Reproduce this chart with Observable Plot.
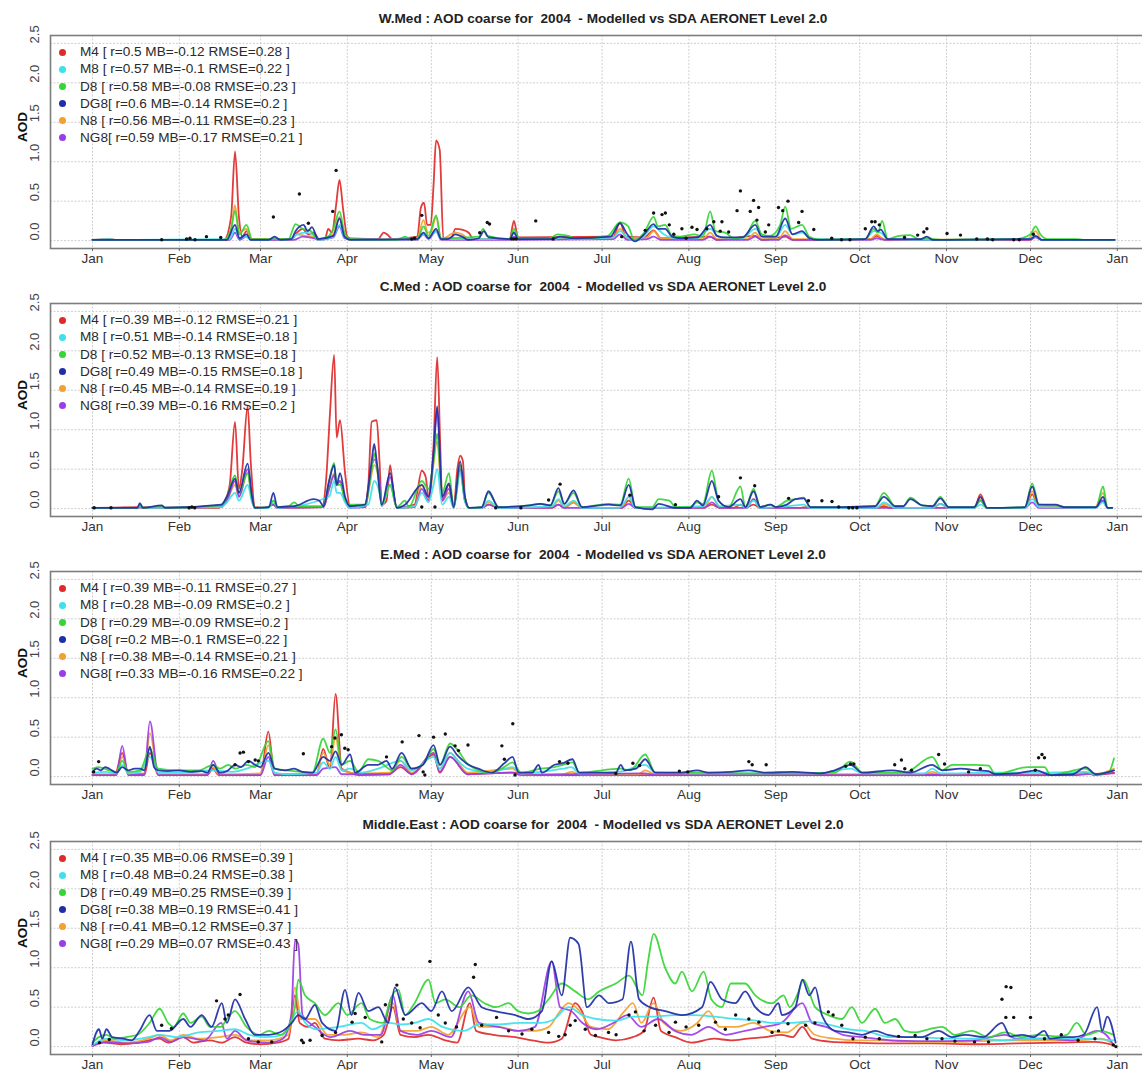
<!DOCTYPE html>
<html>
<head>
<meta charset="utf-8">
<script src="https://cdn.jsdelivr.net/npm/d3@7"></script>
<script src="https://cdn.jsdelivr.net/npm/@observablehq/plot@0.6"></script>
<style>
  html, body { margin: 0; padding: 0; background: #fff; }
  body { width: 1142px; height: 1070px; overflow: hidden; position: relative;
         font-family: "Liberation Sans", Arial, Helvetica, sans-serif; }
  .panel { position: absolute; left: 0; width: 1142px; height: 268px; overflow: hidden; }
  .panel svg { position: absolute; left: 0; top: 0; }
  .title { position: absolute; top: 11px; left: 0; width: 1206px; text-align: center;
           font-weight: bold; font-size: 13.6px; color: #222; white-space: pre; }
  .lg-dot { position: absolute; width: 7px; height: 7px; border-radius: 50%; }
  .lg-txt { position: absolute; font-size: 13.6px; color: #2a2a2a; white-space: pre; line-height: 16px; }
</style>
</head>
<body>
<script>
// ---- models, colours, axes ----
const models = ["M4", "M8", "D8", "DG8", "N8", "NG8"];
const legendNames = ["M4 ", "M8 ", "D8 ", "DG8", "N8 ", "NG8"];
const colors = ["#e02a2a", "#3fe0ea", "#35d535", "#1f2fa6", "#f2a22e", "#9b3de6"];
const drawOrder = [0, 4, 5, 1, 2, 3];
const yTicks = [0, 0.5, 1, 1.5, 2, 2.5];

const titles = [
  "W.Med : AOD coarse for  2004  - Modelled vs SDA AERONET Level 2.0",
  "C.Med : AOD coarse for  2004  - Modelled vs SDA AERONET Level 2.0",
  "E.Med : AOD coarse for  2004  - Modelled vs SDA AERONET Level 2.0",
  "Middle.East : AOD coarse for  2004  - Modelled vs SDA AERONET Level 2.0"
];

const wmedStats = ["r=0.5 MB=-0.12 RMSE=0.28","r=0.57 MB=-0.1 RMSE=0.22","r=0.58 MB=-0.08 RMSE=0.23","r=0.6 MB=-0.14 RMSE=0.2","r=0.56 MB=-0.11 RMSE=0.23","r=0.59 MB=-0.17 RMSE=0.21"];
const cmedStats = ["r=0.39 MB=-0.12 RMSE=0.21","r=0.51 MB=-0.14 RMSE=0.18","r=0.52 MB=-0.13 RMSE=0.18","r=0.49 MB=-0.15 RMSE=0.18","r=0.45 MB=-0.14 RMSE=0.19","r=0.39 MB=-0.16 RMSE=0.2"];
const emedStats = ["r=0.39 MB=-0.11 RMSE=0.27","r=0.28 MB=-0.09 RMSE=0.2","r=0.29 MB=-0.09 RMSE=0.2","r=0.2 MB=-0.1 RMSE=0.22","r=0.38 MB=-0.14 RMSE=0.21","r=0.33 MB=-0.16 RMSE=0.22"];
const meStats   = ["r=0.35 MB=0.06 RMSE=0.39","r=0.48 MB=0.24 RMSE=0.38","r=0.49 MB=0.25 RMSE=0.39","r=0.38 MB=0.19 RMSE=0.41","r=0.41 MB=0.12 RMSE=0.37","r=0.29 MB=0.07 RMSE=0.43"];

// ---- series: [day of 2004 (0 = 1 Jan), AOD coarse] ----
// W.Med
const wmedM4 = [[0,0.01],[6,0.02],[8,0.01],[47,0.01],[49.5,0.3],[50.9,1.13],[52.3,0.3],[53.5,0.05],[55,0.12],[56.5,0.02],[71,0.02],[73,0.1],[75,0.15],[77,0.08],[79,0.1],[81,0.02],[83,0.02],[84.2,0.15],[85.5,0.1],[87,0.45],[88.2,0.77],[89.5,0.4],[91,0.05],[93,0.01],[102,0.02],[104,0.1],[105.5,0.07],[107,0.02],[116,0.05],[117.3,0.42],[118.4,0.48],[119.5,0.2],[120.8,0.2],[121.8,0.7],[122.7,1.27],[124,1.15],[125.3,0.02],[128,0.02],[129.6,0.15],[132,0.14],[134.4,0.1],[136,0.02],[149,0.02],[150.5,0.25],[152,0.04],[186,0.05],[188.4,0.23],[190.5,0.05],[197,0.04],[200.4,0.13],[203,0.03],[220.6,0.05],[223,0.01],[236.7,0.06],[239,0.01],[247.4,0.05],[250,0.01],[278,0.02],[280,0.06],[283,0.01],[335,0.01],[336.8,0.05],[339,0.01],[365,0.01]];
const wmedM8 = [[0,0.01],[6,0.02],[8,0.01],[49,0.02],[50.9,0.15],[52.5,0.03],[55,0.05],[56.5,0.01],[63,0.01],[65,0.04],[67,0.01],[71,0.02],[73,0.08],[76,0.1],[78.5,0.08],[81,0.01],[86,0.05],[88.2,0.2],[90,0.04],[93,0.01],[116,0.02],[118.2,0.08],[120,0.03],[122.7,0.12],[124.5,0.02],[149,0.02],[150.5,0.1],[152,0.02],[165,0.02],[168,0.04],[171,0.02],[186,0.04],[188.4,0.12],[191,0.04],[193.7,0],[197,0.06],[200.4,0.18],[204,0.08],[208,0.03],[216,0.03],[220.6,0.15],[224,0.04],[232,0.03],[236.7,0.15],[240,0.04],[244,0.04],[247.4,0.2],[250,0.08],[253.4,0.1],[257,0.02],[276,0.02],[279,0.12],[281.5,0.1],[284,0.02],[300,0.01],[334,0.02],[336.8,0.05],[339,0.01],[365,0.01]];
const wmedD8 = [[0,0.01],[8,0.01],[47,0.01],[49.5,0.15],[50.9,0.38],[52.5,0.08],[55,0.2],[57,0.02],[70,0.02],[72.5,0.21],[75,0.15],[78,0.12],[80.5,0.02],[84,0.05],[86,0.15],[88.2,0.37],[90,0.1],[92,0.02],[109,0.01],[111.6,0.05],[114,0.01],[116.5,0.05],[118.2,0.18],[120,0.06],[122.7,0.32],[124.5,0.03],[138,0.05],[139.5,0.15],[141,0.06],[149,0.02],[150.5,0.15],[152.5,0.02],[163,0.02],[166,0.08],[170,0.06],[173,0.02],[184,0.06],[188.4,0.23],[191.3,0.18],[193.5,0.01],[197,0.1],[200.4,0.3],[202,0.18],[204.5,0.2],[207,0.06],[210,0.05],[215,0.08],[218,0.05],[220.6,0.37],[222.5,0.12],[226,0.1],[229,0.03],[233,0.05],[236.7,0.25],[239,0.08],[242,0.06],[245.6,0.2],[247.4,0.43],[249.5,0.15],[253.4,0.2],[256,0.05],[260,0.01],[276,0.02],[279,0.15],[280.5,0.1],[282,0.25],[284,0.02],[288,0.06],[292,0.07],[295,0.02],[298,0.03],[303,0.01],[330,0.02],[335,0.08],[336.8,0.18],[338.5,0.08],[341,0.02],[348,0.02],[351,0.02],[354,0.01],[365,0.01]];
const wmedDG8 = [[0,0.01],[8,0.01],[48,0.01],[50.9,0.2],[52.5,0.03],[55,0.08],[56.5,0.01],[63,0.01],[65,0.05],[67,0.01],[71,0.02],[72.5,0.12],[75.4,0.2],[76.8,0.12],[78.4,0.17],[80.5,0.02],[86,0.06],[88.2,0.28],[90,0.05],[92,0.01],[116,0.02],[118.2,0.1],[120,0.03],[122.7,0.15],[124.5,0.02],[127,0.02],[129.6,0.08],[132,0.05],[134,0.01],[138,0.03],[139.8,0.12],[141.5,0.04],[149,0.02],[150.5,0.1],[152,0.02],[164,0.02],[167,0.05],[171,0.03],[185,0.05],[188.4,0.22],[191,0.08],[193.7,-0.01],[197,0.08],[200.4,0.21],[202,0.15],[204.5,0.15],[207,0.05],[210,0.03],[216,0.04],[220.6,0.2],[223,0.06],[226,0.04],[232,0.04],[236.7,0.2],[239,0.05],[244,0.05],[247.4,0.28],[250,0.08],[253.4,0.12],[256,0.03],[259,0.01],[276,0.02],[279,0.18],[280.5,0.12],[281.5,0.14],[284,0.02],[296,0.02],[298,0.05],[300,0.01],[335,0.02],[336.8,0.06],[339,0.01],[365,0.01]];
const wmedN8 = [[0,0.01],[8,0.01],[48,0.01],[49.5,0.15],[50.9,0.45],[52.3,0.1],[55,0.15],[56.5,0.01],[71,0.01],[73,0.08],[76,0.06],[79,0.05],[81,0.01],[86,0.08],[88.2,0.3],[90,0.05],[92,0.01],[116,0.03],[118.2,0.26],[119.8,0.1],[121,0.12],[122.7,0.3],[124.5,0.02],[129.6,0.1],[132,0.08],[134.5,0.02],[149,0.02],[150.5,0.12],[152,0.02],[186,0.04],[188.4,0.15],[191,0.03],[198,0.04],[200.4,0.12],[203,0.03],[218,0.02],[220.6,0.1],[223,0.02],[234,0.02],[236.7,0.1],[239,0.02],[245,0.02],[247.4,0.12],[250,0.02],[278,0.02],[280,0.08],[283,0.01],[334,0.02],[336.8,0.12],[339,0.01],[365,0.01]];
const wmedNG8 = [[0,0.01],[8,0.01],[49,0.01],[50.9,0.1],[52.5,0.01],[55,0.05],[56.5,0.01],[72,0.01],[75,0.05],[79,0.03],[81,0.01],[86,0.04],[88.2,0.18],[90,0.03],[116,0.01],[118.2,0.08],[120,0.02],[122.7,0.12],[124.5,0.01],[149,0.01],[150.5,0.05],[152,0.01],[186,0.02],[188.4,0.08],[191,0.01],[198,0.02],[200.4,0.05],[203,0.01],[218,0.01],[220.6,0.05],[223,0.01],[234,0.01],[236.7,0.05],[239,0.01],[245,0.01],[247.4,0.07],[250,0.01],[278,0.01],[280,0.03],[283,0.01],[334,0.01],[336.8,0.04],[339,0.01],[365,0.01]];
const wmedObs = [[24.7,0.01],[33.6,0.02],[34.8,0.03],[36.6,0.01],[40.7,0.05],[45.8,0.04],[64.6,0.3],[73.9,0.59],[77.1,0.22],[85.8,0.37],[87,0.89],[114,0.02],[115,0.03],[117.6,0.32],[138.3,0.1],[141,0.23],[141.8,0.21],[149.7,0.02],[150.5,0.02],[151.3,0.02],[158.3,0.25],[164.5,0.02],[189,0.05],[197.4,0.13],[200.4,0.35],[203.4,0.33],[204.6,0.35],[206,0.2],[207.6,0.08],[210.5,0.15],[212,0.03],[214.1,0.17],[215.9,0.14],[219.4,0.15],[221.9,0.24],[224.2,0.12],[224.8,0.24],[227.2,0.11],[230.2,0.38],[231.4,0.63],[234.9,0.37],[236.1,0.51],[237.3,0.26],[237.9,0.42],[240.3,0.11],[241.5,0.2],[245,0.42],[246.5,0.38],[248.4,0.5],[252.2,0.23],[253.4,0.37],[257.6,0.14],[264,0.03],[267.5,0.01],[270.5,0.01],[276,0.15],[278.3,0.24],[279.5,0.24],[281,0.2],[290,0.04],[294.7,0.07],[296.9,0.11],[298,0.15],[305.2,0.09],[310,0.07],[315.8,0.02],[319.6,0.02],[321.5,0.01],[329,0.01],[331,0.01],[336,0.08]];

// C.Med
const cmedM4 = [[0,0.01],[6,0.01],[17,0.02],[25,0.01],[45,0.01],[47,0.08],[49,0.3],[50.9,1.1],[52.3,0.25],[53.5,0.5],[55.4,1.3],[56.5,0.6],[58,0.02],[62,0.01],[64.6,0.05],[66,0.01],[82,0.02],[83.5,0.4],[84.8,1.2],[86.3,1.95],[87.2,0.9],[88.4,1.12],[90.2,0.45],[92,0.03],[97,0.02],[98.5,0.3],[99.7,1.1],[101.5,1.12],[102.5,0.6],[103.3,0.05],[105,0.1],[106.3,0.55],[107.5,0.2],[108.7,0.01],[115,0.05],[117.6,0.48],[119,0.4],[120,0.15],[121.8,0.8],[123.1,1.92],[124.2,0.8],[124.9,0.1],[127.3,0.3],[129,0.02],[130.3,0.5],[131.3,0.67],[132.3,0.6],[133,0.15],[134.5,0.01],[139,0.01],[141.4,0.05],[145,0.01],[164,0.01],[166.4,0.05],[168.5,0.01],[171.8,0.08],[174.8,0.01],[189,0.01],[191.5,0.1],[193.9,0.01],[218,0.01],[221.2,0.05],[224,0.01],[229,0.01],[231.4,0.05],[233.2,0.01],[236.1,0.05],[238.5,0.01],[253,0.01],[255,0.02],[257,0.01],[280,0.01],[282.6,0.03],[285,0.01],[300,0.01],[302.8,0.06],[305.8,0.01],[315,0.01],[317.1,0.18],[319.5,0.01],[333,0.01],[335.6,0.18],[338,0.02],[358,0.01],[360.9,0.1],[362.5,0.01],[364.2,0.01]];
const cmedM8 = [[0,0.01],[16,0.01],[17,0.03],[18,0.01],[46,0.02],[48,0.08],[50.9,0.2],[52.3,0.1],[55.4,0.3],[57,0.08],[58,0.01],[63,0.01],[64.6,0.1],[66,0.01],[84.5,0.15],[86.3,0.35],[87.2,0.2],[88.4,0.2],[90.2,0.08],[92,0.01],[98.5,0.05],[100.6,0.35],[102.5,0.2],[103.3,0.03],[106.3,0.3],[108.7,0.01],[115,0.03],[117.6,0.2],[120,0.08],[121.8,0.3],[123.1,0.5],[124.9,0.05],[127.3,0.15],[129,0.01],[131.3,0.45],[133,0.1],[134.5,0.01],[139,0.01],[141.4,0.1],[145,0.01],[164,0.03],[166.4,0.12],[168.5,0.03],[171.8,0.1],[174.8,0.01],[188,0.01],[190,0.08],[191.5,0.15],[193.9,0.01],[218,0.03],[221.2,0.15],[224,0.03],[231.4,0.05],[233.2,0.01],[236.1,0.1],[238.5,0.01],[251,0.04],[254,0.05],[256.4,0.01],[280,0.01],[282.6,0.08],[286.7,0.01],[300,0.01],[302.8,0.06],[305.8,0.01],[315,0.01],[317.1,0.05],[319.5,0.01],[333,0.01],[335.6,0.12],[338,0.02],[358,0.01],[360.9,0.08],[362.5,0.01],[364.2,0.01]];
const cmedD8 = [[0,0.01],[16,0.01],[16.9,0.05],[18,0.01],[24.7,0.03],[26,0.01],[46,0.04],[48,0.15],[50.9,0.42],[52.3,0.2],[55.4,0.45],[57,0.12],[58,0.01],[63,0.02],[64.6,0.1],[66,0.02],[70,0.03],[72,0.08],[74,0.03],[82.5,0.03],[84.5,0.35],[86.3,0.58],[87.2,0.3],[88.4,0.3],[90.2,0.12],[92,0.05],[94,0.05],[97.3,0.05],[99.7,0.5],[100.6,0.7],[101.5,0.55],[103.3,0.05],[106.3,0.3],[108.7,0.02],[111.6,0.1],[113,0.02],[117.6,0.35],[120,0.25],[121.8,0.6],[123.1,0.95],[124.9,0.2],[127.3,0.45],[129,0.02],[131.3,0.55],[133,0.12],[134.5,0.01],[139,0.02],[141.4,0.2],[145,0.02],[156,0.04],[160,0.06],[163.5,0.04],[166.4,0.22],[168.5,0.06],[171.8,0.2],[174.8,0.02],[184.3,0.06],[188.5,0.05],[191.5,0.38],[193.9,0.02],[199.9,0.02],[202.2,0.12],[206,0.1],[208.2,0.02],[213.5,0.02],[215.9,0.08],[218,0.06],[221.2,0.48],[223.6,0.1],[227.2,0.02],[231.4,0.28],[233.2,0.02],[236.1,0.25],[238.5,0.02],[242.1,0.05],[244,0.02],[248,0.1],[251,0.12],[254,0.14],[256.4,0.02],[268,0.02],[279.5,0.03],[282.6,0.2],[286.7,0.03],[289.5,0.03],[292.1,0.14],[296.3,0.04],[300,0.03],[302.8,0.15],[305.8,0.02],[315,0.02],[317.1,0.1],[319.5,0.01],[333,0.02],[335.6,0.32],[338,0.05],[344,0.04],[347,0.02],[358.5,0.02],[360.9,0.28],[362.5,0.01],[364.2,0.01]];
const cmedDG8 = [[0,0.01],[6,0.01],[16,0.01],[16.9,0.07],[18,0.01],[24.7,0.04],[26,0.01],[46,0.05],[48,0.15],[50.9,0.38],[52.3,0.2],[55.4,0.57],[57,0.15],[58,0.01],[63,0.02],[64.6,0.2],[66,0.02],[72,0.03],[79,0.12],[81,0.1],[82.5,0.03],[84.5,0.35],[86.3,0.55],[87.2,0.3],[88.4,0.45],[90.2,0.15],[92,0.03],[95,0.04],[97.3,0.05],[99.7,0.6],[100.6,0.82],[101.5,0.6],[103.3,0.05],[106.3,0.45],[108.7,0.01],[111.6,0.05],[117.6,0.3],[120,0.15],[121.8,0.7],[123.1,1.3],[124.9,0.15],[127.3,0.32],[129,0.02],[131.3,0.6],[133,0.15],[134.5,0.01],[139,0.02],[141.4,0.22],[145,0.02],[156,0.04],[160,0.06],[163.5,0.04],[166.4,0.26],[168.5,0.06],[171.8,0.23],[174.8,0.02],[184.3,0.05],[188.5,0.04],[191.5,0.3],[193.9,0.02],[199.9,-0.01],[202.2,0.06],[208.2,0.01],[213.5,0.01],[215.9,0.1],[218,0.04],[221.2,0.35],[223.6,0.1],[227.2,0.02],[231.4,0.12],[233.2,0.02],[236.1,0.22],[238.5,0.02],[242.1,0.05],[244,0.02],[248,0.05],[251,0.12],[254,0.13],[256.4,0.02],[268,0.02],[279.5,0.03],[282.6,0.15],[286.7,0.03],[289.5,0.03],[292.1,0.12],[296.3,0.04],[300,0.03],[302.8,0.13],[305.8,0.02],[315,0.02],[317.1,0.15],[319.5,0.01],[333,0.02],[335.6,0.28],[338,0.05],[344,0.05],[347,0.02],[358.5,0.02],[360.9,0.15],[362.5,0.01],[364.2,0.01]];
const cmedN8 = [[0,0.01],[46,0.02],[48,0.1],[50.9,0.3],[52.3,0.15],[55.4,0.45],[57,0.1],[58,0.01],[62,0.01],[64.6,0.06],[66,0.01],[82.5,0.02],[84.5,0.25],[86.3,0.45],[87.2,0.3],[88.4,0.35],[90.2,0.12],[92,0.02],[97.5,0.02],[99,0.3],[100.6,0.55],[102.5,0.3],[103.3,0.03],[106.3,0.3],[108.7,0.01],[115,0.02],[117.6,0.3],[120,0.12],[123.1,0.85],[124.9,0.1],[127.3,0.2],[129,0.01],[131.3,0.55],[133,0.1],[134.5,0.01],[139,0.01],[141.4,0.08],[145,0.01],[164,0.01],[166.4,0.1],[168.5,0.02],[171.8,0.08],[174.8,0.01],[189,0.01],[191.5,0.15],[193.9,0.01],[218.5,0.01],[221.2,0.15],[224,0.02],[233.5,0.01],[236.1,0.12],[238.5,0.01],[280,0.01],[282.6,0.06],[286.7,0.01],[314.5,0.01],[317.1,0.12],[319.5,0.01],[333,0.01],[335.6,0.22],[338,0.02],[358,0.01],[360.9,0.2],[362.5,0.01],[364.2,0.01]];
const cmedNG8 = [[0,0.01],[46,0.02],[48,0.1],[50.9,0.35],[52.3,0.15],[55.4,0.5],[57,0.1],[58,0.01],[62,0.01],[64.6,0.05],[66,0.01],[82.5,0.02],[84.5,0.25],[86.3,0.42],[87.2,0.3],[88.4,0.35],[90.2,0.1],[92,0.01],[97.5,0.02],[99,0.4],[100.6,0.62],[102.5,0.35],[103.3,0.03],[106.3,0.4],[108.7,0.01],[115,0.02],[117.6,0.25],[120,0.1],[121.8,0.7],[123.1,1.25],[124.9,0.1],[127.3,0.25],[129,0.01],[131.3,0.5],[133,0.1],[134.5,0.01],[139,0.01],[141.4,0.05],[145,0.01],[164,0.01],[166.4,0.05],[168.5,0.01],[189,0.01],[191.5,0.06],[193.9,0.01],[218.5,0.01],[221.2,0.08],[224,0.01],[233.5,0.01],[236.1,0.12],[238.5,0.01],[314.5,0.01],[317.1,0.1],[319.5,0.01],[333,0.01],[335.6,0.08],[338,0.01],[358,0.01],[360.9,0.1],[362.5,0.01],[364.2,0.01]];
const cmedObs = [[0.6,0.01],[6.6,0.01],[34.5,0.01],[35.5,0.02],[36.5,0.01],[117.6,0.02],[122.3,0.02],[144,0.01],[153,0.01],[162.9,0.11],[167,0.31],[191.9,0.17],[208.2,0.05],[223.6,0.15],[231.4,0.39],[236.5,0.29],[248.6,0.13],[255.7,0.1],[260.5,0.1],[264.1,0.09],[266.5,0.02],[270.1,0.01],[271.5,0.01],[273,0.01]];

// E.Med
const emedM4 = [[0,0.02],[8,0.02],[10.6,0.3],[12.8,0.02],[18.5,0.02],[20.5,0.3],[23.5,0.02],[41,0.02],[43,0.1],[45,0.02],[60,0.02],[62.8,0.57],[65,0.02],[80,0.02],[82.4,0.35],[84.8,0.1],[86.8,1.05],[89,0.1],[92,0.05],[95,0.02],[106,0.03],[110,0.12],[114,0.03],[121.8,0.28],[124,0.05],[127.7,0.25],[134,0.03],[150,0.05],[160,0.02],[200,0.02],[260,0.02],[300,0.02],[350,0.02],[354.7,0.05],[358,0.02],[364.8,0.05]];
const emedM8 = [[0,0.05],[5,0.06],[8.6,0.04],[10.6,0.15],[12.8,0.04],[17,0.06],[20.5,0.25],[23.5,0.05],[30,0.05],[43,0.08],[50,0.06],[55,0.1],[62.8,0.2],[65,0.05],[70,0.03],[80,0.05],[82.4,0.18],[84.8,0.1],[86.8,0.25],[89,0.08],[92,0.1],[96,0.05],[102,0.1],[110,0.2],[114,0.08],[121.8,0.25],[124,0.1],[127.7,0.3],[130,0.22],[134,0.1],[142,0.05],[150,0.12],[153,0.04],[160,0.06],[168,0.1],[171,0.12],[174,0.04],[188,0.06],[197.4,0.15],[201,0.05],[215,0.04],[240,0.04],[260,0.04],[270.7,0.1],[275,0.04],[297,0.04],[299.9,0.1],[303,0.04],[320,0.05],[340,0.05],[354.7,0.06],[358,0.03],[364.8,0.08]];
const emedD8 = [[0,0.1],[2,0.12],[6,0.08],[8.6,0.06],[10.6,0.2],[12.8,0.06],[17,0.08],[20.5,0.35],[23.5,0.1],[30,0.08],[38,0.08],[43.1,0.15],[45.5,0.1],[48.5,0.15],[51,0.1],[55,0.15],[58,0.12],[62.8,0.45],[65.1,0.1],[72,0.07],[78.5,0.05],[82.4,0.48],[84.8,0.3],[86.8,0.6],[89,0.15],[92,0.2],[95,0.06],[98.5,0.22],[102,0.2],[107,0.08],[110.4,0.25],[114,0.1],[118,0.15],[121.8,0.35],[124.1,0.15],[127.7,0.42],[130.1,0.35],[134.3,0.15],[142,0.05],[147,0.12],[150,0.18],[153,0.05],[160,0.1],[165,0.12],[168,0.15],[171.4,0.18],[174,0.05],[188.7,0.1],[192,0.08],[197.4,0.28],[201,0.05],[215,0.05],[240,0.04],[265,0.05],[270.7,0.19],[274.9,0.05],[290,0.05],[299.9,0.25],[303.4,0.08],[307,0.15],[315,0.15],[320,0.14],[322.4,0.03],[334,0.12],[340,0.12],[342.2,0.02],[354.7,0.1],[358.3,0.03],[363,0.06],[364.8,0.23]];
const emedDG8 = [[0,0.06],[1.5,0.1],[3,0.08],[4.5,0.12],[6,0.1],[8.6,0.05],[10.6,0.12],[12.8,0.08],[15,0.1],[17,0.1],[18.5,0.08],[20.5,0.38],[22,0.12],[23.5,0.08],[27,0.07],[31,0.08],[35,0.06],[39,0.07],[41,0.05],[43.1,0.15],[45.5,0.05],[48,0.07],[51,0.15],[53,0.12],[55.7,0.2],[58,0.15],[60,0.12],[62.8,0.3],[65.1,0.1],[68.7,0.08],[72,0.1],[75,0.06],[78.5,0.05],[82.4,0.25],[84.8,0.2],[86.8,0.32],[89,0.15],[92,0.28],[93.8,0.05],[98.5,0.15],[102,0.15],[105,0.2],[107,0.1],[110.4,0.3],[114,0.1],[118,0.15],[121.8,0.4],[124.1,0.15],[127.7,0.38],[130.1,0.28],[134.3,0.15],[137.8,0.1],[142.6,0.05],[147.4,0.18],[150,0.25],[152.2,0.05],[157,0.05],[159.3,0.15],[160.5,0.05],[165,0.15],[168,0.17],[171.4,0.22],[173.8,0.05],[186.9,0.05],[188.7,0.15],[190,0.08],[194.1,0.1],[197.4,0.22],[201,0.05],[210.5,0.05],[216,0.08],[220,0.05],[228,0.06],[234.4,0.08],[240,0.05],[250,0.06],[260,0.04],[265,0.08],[270.7,0.15],[274.9,0.05],[285.5,0.08],[292,0.05],[299.9,0.15],[303.4,0.08],[310,0.1],[316,0.08],[320,0.07],[322.4,0.03],[330,0.04],[337,0.08],[342.2,0.02],[350,0.03],[354.7,0.12],[358.3,0.03],[364.8,0.08]];
const emedN8 = [[0,0.03],[8.6,0.03],[10.6,0.25],[12.8,0.03],[18.5,0.04],[20.5,0.55],[23.5,0.03],[41,0.03],[43,0.12],[45,0.03],[60,0.04],[62.8,0.4],[65,0.03],[80,0.04],[82.4,0.3],[84.8,0.15],[86.8,0.5],[89,0.08],[95,0.04],[106,0.05],[110,0.2],[114,0.05],[121.8,0.3],[124,0.1],[127.7,0.3],[134,0.05],[150,0.1],[153,0.03],[168,0.03],[171,0.06],[174,0.03],[195,0.03],[197.4,0.08],[201,0.03],[240,0.03],[297,0.03],[299.9,0.06],[303,0.03],[320,0.03],[352,0.03],[354.7,0.05],[358,0.03],[364.8,0.1]];
const emedNG8 = [[0,0.02],[8.6,0.02],[10.6,0.39],[12.8,0.02],[18.5,0.03],[20.5,0.7],[23.5,0.02],[41,0.02],[43.1,0.2],[45.5,0.02],[60,0.02],[62.8,0.25],[65,0.02],[80,0.02],[82.4,0.1],[86.8,0.12],[89,0.03],[106,0.03],[110,0.15],[114,0.03],[121.8,0.3],[124,0.06],[127.7,0.25],[134,0.03],[150,0.05],[153,0.02],[171,0.03],[197.4,0.04],[201,0.02],[240,0.02],[297,0.02],[299.9,0.03],[303,0.02],[352,0.02],[354.7,0.03],[364.8,0.04]];
const emedObs = [[0.4,0.06],[2.2,0.19],[50.9,0.15],[52.7,0.3],[53.9,0.31],[55.7,0.19],[58.1,0.21],[59.2,0.2],[75.3,0.29],[85.4,0.38],[86.6,0.49],[88.9,0.53],[90.1,0.36],[91.3,0.34],[105,0.25],[110.6,0.44],[116.6,0.52],[118.1,0.06],[118.7,0.02],[121.8,0.5],[126,0.54],[129.5,0.39],[130.7,0.33],[134.1,0.4],[146.2,0.39],[147.1,0.22],[150.1,0.67],[150.9,0.02],[166.8,0.19],[169.8,0.17],[186.9,0.04],[193,0.17],[195.4,0.14],[209.6,0.07],[212.6,0.06],[234.4,0.19],[235.6,0.15],[240.6,0.15],[269,0.13],[270.7,0.16],[271.9,0.16],[286.5,0.15],[288.9,0.21],[290.1,0.1],[292.5,0.08],[302.2,0.28],[304.3,0.16],[312.9,0.06],[317.1,0.1],[336.7,0.08],[337.9,0.24],[339.1,0.28],[340,0.24]];

// Middle East
const meM4 = [[0,0.01],[4,0.05],[10,0.03],[16,0.05],[20,0.08],[24,0.1],[27,0.05],[32.4,0.12],[36,0.05],[42,0.08],[46,0.05],[50.9,0.12],[55,0.05],[60,0.03],[66,0.05],[70,0.1],[72.3,0.65],[74,0.3],[77,0.25],[79.4,0.3],[83,0.1],[88,0.08],[95,0.1],[100,0.08],[104,0.15],[107.3,0.5],[110,0.15],[115,0.12],[120,0.15],[126,0.08],[130.2,0.05],[134.8,0.55],[137,0.2],[143,0.15],[151,0.12],[157,0.08],[162.9,0.05],[167.6,0.1],[172.4,0.55],[174.8,0.45],[178,0.15],[181,0.12],[186.9,0.08],[193,0.12],[197,0.2],[200.4,0.62],[203,0.2],[208.1,0.12],[214,0.05],[222,0.1],[228,0.08],[234,0.1],[240,0.12],[246,0.15],[250,0.12],[253.5,0.25],[257,0.1],[264,0.06],[272,0.05],[285,0.04],[300,0.04],[315,0.03],[330,0.04],[345,0.05],[358,0.06],[364.6,0.02]];
const meM8 = [[0,0.02],[5,0.1],[12,0.08],[20,0.12],[24,0.15],[30,0.12],[38,0.18],[45,0.2],[50.9,0.22],[56,0.15],[62,0.12],[68,0.15],[73.5,0.45],[76,0.3],[80,0.22],[88,0.25],[96.1,0.3],[100,0.22],[106,0.3],[110,0.28],[115,0.3],[120,0.35],[125,0.25],[132.6,0.2],[138,0.28],[145,0.28],[152,0.3],[160,0.3],[165,0.35],[170,0.5],[175,0.4],[180,0.35],[187,0.33],[193,0.38],[200,0.38],[208,0.4],[215,0.4],[222,0.38],[230,0.35],[237,0.33],[243,0.3],[250,0.3],[256,0.32],[262.8,0.28],[270,0.22],[276,0.2],[285,0.12],[295,0.12],[305,0.1],[315,0.1],[325,0.08],[335,0.1],[345,0.1],[355,0.1],[364.6,0.08]];
const meD8 = [[0,0.05],[2.3,0.12],[5,0.15],[8,0.1],[12,0.12],[16,0.15],[20.4,0.3],[24,0.48],[27,0.3],[29,0.25],[32.4,0.42],[35,0.3],[39,0.38],[42,0.25],[45.8,0.25],[48,0.35],[50.9,0.45],[55,0.25],[59.6,0.15],[63,0.2],[67,0.15],[70,0.25],[72.3,0.5],[73.5,0.85],[75.9,0.65],[79.4,0.55],[83,0.4],[87.8,0.55],[91,0.4],[96.1,0.55],[99,0.35],[103.8,0.3],[106,0.55],[108,0.7],[109.3,0.72],[111.6,0.4],[115,0.55],[120,0.85],[122.5,0.55],[126,0.6],[131,0.5],[135.3,0.65],[140,0.55],[144,0.5],[148.6,0.55],[152,0.45],[155.7,0.42],[159,0.45],[162.9,0.6],[167.6,0.8],[172.4,0.7],[177,0.6],[180.9,0.7],[186.9,0.8],[191.6,0.9],[196.4,0.65],[198.5,1.1],[200.4,1.43],[204.5,1.0],[208.1,0.8],[210.5,0.95],[214.1,0.7],[218.3,0.95],[221,0.6],[224.8,0.5],[228,0.8],[233.1,0.8],[236.7,0.65],[242.6,0.55],[246.8,0.65],[249,0.5],[252.2,0.7],[253.9,0.85],[258.1,0.5],[262.8,0.4],[267.6,0.35],[271.2,0.5],[274.8,0.3],[279.5,0.48],[283,0.3],[286.7,0.35],[290.2,0.2],[294,0.18],[298.6,0.22],[303.4,0.25],[308,0.15],[314,0.2],[320,0.12],[326,0.18],[332,0.12],[338,0.15],[344,0.13],[348,0.15],[351.5,0.3],[355,0.15],[360,0.2],[364.6,0.15]];
const meDG8 = [[0,0.03],[2.3,0.22],[3.5,0.1],[5,0.22],[7,0.12],[11,0.1],[14,0.08],[16.8,0.2],[20.4,0.4],[23,0.2],[27.5,0.2],[32.4,0.35],[35,0.25],[39,0.4],[42.5,0.25],[46.2,0.55],[48,0.3],[50.9,0.6],[54.5,0.35],[58,0.15],[63,0.15],[68,0.2],[71.2,0.3],[73.5,0.4],[75.9,0.35],[79.4,0.53],[82,0.3],[86.8,0.2],[90.2,0.72],[92.5,0.4],[95,0.68],[98.5,0.45],[102.1,0.5],[105.6,0.3],[108,0.75],[111.7,0.4],[117.6,0.55],[121,0.45],[124.8,0.7],[128.3,0.45],[134.2,0.75],[139,0.5],[143.8,0.45],[151,0.4],[155.7,0.35],[160.5,0.45],[164,1.08],[167.6,0.65],[170.6,1.38],[173.6,1.3],[176.6,0.5],[180.9,0.65],[184.5,0.55],[189.3,0.6],[192.3,1.33],[195.2,0.6],[199,0.5],[204.5,0.45],[210.5,0.4],[217.7,0.5],[220.7,0.82],[224.8,0.6],[229.6,0.55],[233.1,0.7],[236.7,0.5],[241.4,0.4],[245,0.55],[246.2,0.4],[251,0.5],[253.5,0.85],[256,0.65],[258.1,0.75],[260.5,0.4],[265.2,0.2],[270,0.18],[274.8,0.15],[279.5,0.2],[284,0.15],[290.2,0.12],[296,0.12],[302.2,0.2],[307,0.12],[311.7,0.15],[318,0.12],[324.8,0.3],[327.8,0.13],[332,0.15],[336,0.12],[339.9,0.2],[342,0.1],[347,0.12],[350.3,0.12],[354,0.15],[358.8,0.5],[360.6,0.2],[362.4,0.38],[365.4,0.05]];
const meN8 = [[0,0.01],[5,0.08],[12,0.05],[20,0.1],[24,0.15],[28,0.08],[32.4,0.15],[38,0.1],[45,0.12],[50.9,0.15],[56,0.08],[63,0.08],[70,0.15],[72.3,0.75],[74.5,0.35],[79.4,0.35],[84,0.15],[90,0.15],[96,0.18],[102,0.12],[107.3,0.55],[110,0.2],[116,0.2],[121,0.25],[127,0.15],[134.8,0.5],[138,0.25],[145,0.25],[152,0.2],[158,0.2],[163,0.25],[167,0.45],[170,0.55],[174,0.45],[178,0.25],[184,0.22],[190,0.45],[193,0.55],[196,0.3],[200.4,0.55],[204,0.3],[210,0.2],[216,0.3],[220,0.45],[224,0.25],[230,0.25],[236,0.3],[242,0.2],[248,0.18],[253.5,0.3],[258,0.15],[265,0.1],[272,0.08],[282,0.08],[295,0.06],[310,0.06],[325,0.08],[340,0.08],[352,0.08],[360,0.1],[364.6,0.03]];
const meNG8 = [[0,0.01],[5,0.06],[12,0.04],[20,0.06],[24,0.12],[28,0.06],[32.4,0.12],[40,0.08],[46,0.3],[48,0.1],[50.9,0.2],[55,0.08],[63,0.05],[68,0.1],[71,0.4],[72.3,1.35],[73.5,1.3],[75,0.4],[79.4,0.25],[85,0.12],[92,0.2],[97,0.15],[103,0.15],[107.3,0.65],[110,0.2],[116,0.15],[121,0.2],[128,0.12],[134.2,0.7],[138,0.3],[145,0.25],[152,0.2],[158,0.25],[164,1.08],[167,0.5],[171,0.45],[175,0.3],[180,0.22],[186,0.3],[191,0.4],[196,0.25],[202,0.35],[208,0.2],[214,0.15],[220,0.25],[226,0.15],[233,0.2],[240,0.25],[246,0.3],[253.5,0.55],[257,0.3],[262,0.25],[268,0.15],[275,0.12],[285,0.08],[295,0.07],[305,0.07],[315,0.08],[326,0.15],[330,0.1],[340,0.1],[350,0.08],[358.8,0.2],[362,0.15],[364.6,0.02]];
const meObs = [[2.5,0.05],[6,0.09],[24.7,0.27],[28.2,0.23],[44.3,0.58],[47.3,0.35],[48.5,0.4],[52.7,0.66],[55.7,0.1],[59.2,0.06],[64,0.06],[74.7,0.08],[75.3,0.05],[77.7,0.08],[82,0.14],[86.8,0.18],[92.7,0.31],[93.8,0.42],[97.4,0.37],[103.3,0.06],[104.6,0.53],[108.7,0.78],[111,0.35],[114,0.3],[117,0.24],[120.5,1.08],[123.5,0.4],[126,0.3],[130,0.25],[136.1,0.88],[136.7,1.04],[139,0.27],[144.3,0.37],[148.6,0.2],[153.4,0.16],[156.9,0.22],[162.9,0.18],[166.5,0.13],[168.8,0.15],[170.6,0.27],[172.4,0.33],[176,0.22],[179.6,0.14],[184.3,0.18],[187,0.15],[191.6,0.4],[193.9,0.44],[197,0.2],[201.1,0.27],[205.9,0.18],[208.2,0.31],[212,0.25],[216.5,0.27],[222.5,0.31],[226,0.22],[229.7,0.4],[234.4,0.35],[238,0.31],[242.7,0.18],[245,0.2],[248.4,0.29],[254.7,0.27],[258,0.3],[262.8,0.44],[264.5,0.4],[267.6,0.27],[271.6,0.1],[276,0.12],[281,0.1],[287.9,0.13],[293.8,0.14],[298,0.1],[303.4,0.1],[308,0.07],[315,0.06],[320,0.06],[324.8,0.6],[326.2,0.37],[326.3,0.76],[328,0.75],[329,0.37],[335,0.37],[340,0.1],[346,0.15],[352,0.08],[358,0.1],[364.6,0.02],[365.5,0]];

// ---- panel layout ----
const panels = [
  {top: 0,   title: titles[0], stats: wmedStats, series: [wmedM4, wmedM8, wmedD8, wmedDG8, wmedN8, wmedNG8], obs: wmedObs},
  {top: 268, title: titles[1], stats: cmedStats, series: [cmedM4, cmedM8, cmedD8, cmedDG8, cmedN8, cmedNG8], obs: cmedObs},
  {top: 536, title: titles[2], stats: emedStats, series: [emedM4, emedM8, emedD8, emedDG8, emedN8, emedNG8], obs: emedObs},
  {top: 806, title: titles[3], stats: meStats,   series: [meM4, meM8, meD8, meDG8, meN8, meNG8],             obs: meObs}
];

const day = d => new Date(Date.UTC(2004, 0, 1) + d * 864e5);
const monthTicks = d3.utcMonth.range(new Date(Date.UTC(2004, 0, 1)), new Date(Date.UTC(2005, 0, 2)));
const fontFamily = '"Liberation Sans", Arial, Helvetica, sans-serif';

for (const p of panels) {
  const rows = [];
  for (const i of drawOrder) {
    for (const [d, v] of p.series[i]) rows.push({model: models[i], date: day(d), aod: v});
  }
  const obs = p.obs.map(([d, v]) => ({date: day(d), aod: v}));

  const chart = Plot.plot({
    width: 1142,
    height: 268,
    marginTop: 35,
    marginBottom: 20,
    marginLeft: 50,
    marginRight: -14,
    x: {type: "utc", domain: [day(-15), day(380)]},
    y: {domain: [-0.1, 2.6], axis: null},
    color: {domain: models, range: colors},
    style: {fontFamily, fontSize: "13px", color: "#333", background: "transparent"},
    marks: [
      Plot.gridX(monthTicks, {stroke: "#cfcfcf", strokeOpacity: 1, strokeDasharray: "2,1.5"}),
      Plot.gridY(yTicks, {stroke: "#cfcfcf", strokeOpacity: 1, strokeDasharray: "2,1.5"}),
      Plot.line(rows, {x: "date", y: "aod", z: "model", stroke: "model", strokeWidth: 1.8, strokeOpacity: 0.92, curve: "monotone-x"}),
      Plot.dot(obs, {x: "date", y: "aod", r: 1.7, fill: "#111", stroke: "none"}),
      Plot.frame({stroke: "#7d7d7d", strokeWidth: 1.6}),
      Plot.axisX(monthTicks, {tickFormat: d3.utcFormat("%b"), tickSize: 3, tickPadding: 2, fontSize: 13.5, label: null, stroke: "#666", fill: "#333"}),
      Plot.text(yTicks, {y: d => d, text: d => d.toFixed(1), frameAnchor: "left", dx: -16, rotate: -90, fontSize: 13, fill: "#444"}),
      Plot.text(["AOD"], {frameAnchor: "left", dx: -28, rotate: -90, fontWeight: "bold", fontSize: 13.5, fill: "#111"})
    ]
  });

  const div = document.createElement("div");
  div.className = "panel";
  div.style.top = p.top + "px";
  div.appendChild(chart);

  const title = document.createElement("div");
  title.className = "title";
  title.textContent = p.title;
  div.appendChild(title);

  models.forEach((m, i) => {
    const cy = 52.3 + i * 17.1;
    const dot = document.createElement("span");
    dot.className = "lg-dot";
    dot.style.left = "58.5px";
    dot.style.top = (cy - 3.5) + "px";
    dot.style.background = colors[i];
    const txt = document.createElement("span");
    txt.className = "lg-txt";
    txt.style.left = "80px";
    txt.style.top = (cy - 8) + "px";
    txt.textContent = legendNames[i] + "[ " + p.stats[i] + " ]";
    div.appendChild(dot);
    div.appendChild(txt);
  });

  document.body.appendChild(div);
}
</script>
</body>
</html>
